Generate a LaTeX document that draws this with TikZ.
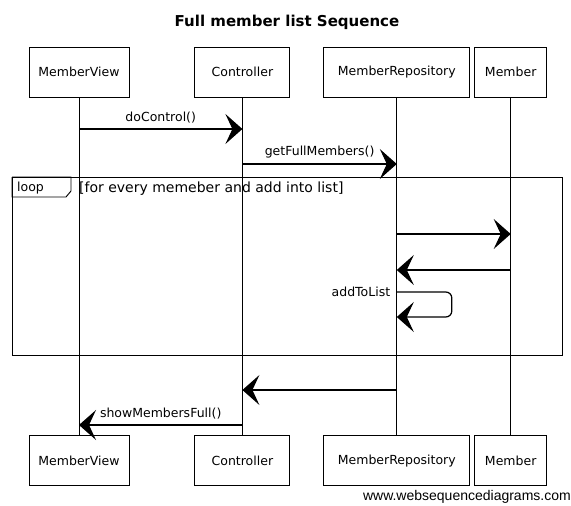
\documentclass[tikz,border=0pt]{standalone}
\usepackage{fontspec}
\setmainfont{DejaVu Sans}
\newfontfamily\sitefont{Liberation Sans}
\usetikzlibrary{arrows.meta,positioning,calc}
\tikzset{
    actor/.style={draw, line width=0.9pt, minimum width=#1, minimum height=50pt, inner sep=0pt, font=\fontsize{12.5}{14}\selectfont},
    lifeline/.style={line width=0.8pt},
    msg/.style={-{Stealth[length=17pt, width=30pt, inset=7pt]}, line width=1.2pt},
    msglabel/.style={font=\fontsize{12.5}{14}\selectfont, inner sep=2pt},
    frame/.style={line width=0.9pt}
}

\begin{document}
\begin{tikzpicture}[x=1pt, y=-1pt]
            \useasboundingbox (0,0) rectangle (571,506);
            \node[font=\fontsize{15}{18}\selectfont\bfseries] (title) at (287,22) {Full member list Sequence};

            % participants
            \node[actor=100pt] (viewTop) at (79,72) {MemberView};
            \node[actor=95pt, right=65pt of viewTop] (ctrlTop) {Controller};
            \node[actor=146pt, right=33pt of ctrlTop] (repoTop) {MemberRepository};
            \node[actor=72pt, right=4pt of repoTop] (membTop) {Member};

            \node[actor=100pt, below=338pt of viewTop] (viewBot) {MemberView};
            \node[actor=95pt, below=338pt of ctrlTop] (ctrlBot) {Controller};
            \node[actor=146pt, below=338pt of repoTop] (repoBot) {MemberRepository};
            \node[actor=72pt, below=338pt of membTop] (membBot) {Member};

            \foreach \p in {view,ctrl,repo,memb}
                \draw[lifeline] (\p Top) -- (\p Bot);

            % message levels
            \coordinate (l1) at (0,129);
            \coordinate (l2) at (0,164);
            \coordinate (l3) at (0,234);
            \coordinate (l4) at (0,270);
            \coordinate (l5) at (0,292);
            \coordinate (l6) at (0,317);
            \coordinate (l7) at (0,390);
            \coordinate (l8) at (0,425);

            % loop fragment
            \coordinate (loopNW) at (12,177);
            \coordinate (loopSE) at (562,355);
            \draw[frame] (loopNW) rectangle (loopSE);
            \draw[frame] (loopNW) -| ++(59,14) -- ++(-5,6) -| (loopNW);
            \node[msglabel, anchor=west] (loopTag) at (15,188) {loop};
            \node[font=\fontsize{14}{16}\selectfont, anchor=west, inner sep=0pt] (guard) at (79,189) {[for every memeber and add into list]};

            % messages
            \draw[msg] (viewTop |- l1) -- (ctrlTop |- l1) node[msglabel, midway, above=3pt] {doControl()};
            \draw[msg] (ctrlTop |- l2) -- (repoTop |- l2) node[msglabel, midway, above=3pt] {getFullMembers()};
            \draw[msg] (repoTop |- l3) -- (membTop |- l3);
            \draw[msg] (membTop |- l4) -- (repoTop |- l4);
            \draw[msg, rounded corners=6pt] (repoTop |- l5) node[msglabel, left=4pt] {addToList} -- ++(55,0) |- (repoTop |- l6);
            \draw[msg] (repoTop |- l7) -- (ctrlTop |- l7);
            \draw[msg] (ctrlTop |- l8) -- (viewTop |- l8) node[msglabel, midway, above=3pt] {showMembersFull()};

            \node[font=\sitefont\fontsize{14}{16}\selectfont, anchor=east, inner sep=0pt] (site) at (571,497) {www.websequencediagrams.com};
        \end{tikzpicture}
\end{document}
